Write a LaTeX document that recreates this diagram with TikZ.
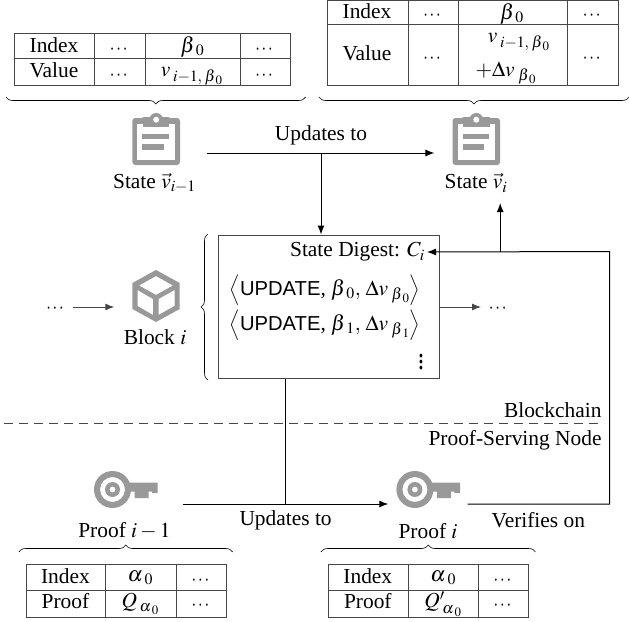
\documentclass[tikz,border=0pt]{standalone}
\usepackage{amsmath}
\usepackage{mathptmx}
\usepackage{fontspec}
\setmainfont{Liberation Serif}
\setsansfont{Liberation Sans}
\usetikzlibrary{arrows.meta,decorations.pathreplacing}
\definecolor{icongrey}{RGB}{153,153,153}
\definecolor{linegrey}{RGB}{70,70,70}
\newcommand{\bz}{\beta_{\mskip4mu 0}}
\newcommand{\bo}{\beta_{\mskip4mu 1}}
\newcommand{\az}{\alpha_{\mskip4mu 0}}
\newcommand{\vprev}{v_{\mskip3mu i-1,\mskip3mu \beta_{\mskip3mu 0}}}
\newcommand{\dvz}{\Delta v_{\mskip4mu\beta_{\mskip3mu 0}}}
\newcommand{\dvo}{\Delta v_{\mskip4mu\beta_{\mskip3mu 1}}}
\newcommand{\cds}{\scalebox{0.78}[1]{$\cdots$}}
\newcommand{\opn}{\raisebox{1pt}{\scalebox{0.8}{$\Bigl\langle$}}}
\newcommand{\cls}{\raisebox{1pt}{\scalebox{0.8}{$\Bigr\rangle$}}}
\newcommand{\upd}{{\fontsize{20.2}{24}\selectfont\textsf{UPDATE}}}
\tikzset{
  x=1pt,y=-1pt,
  lab/.style={inner sep=0pt,font=\fontsize{21.4}{24}\selectfont},
  cell/.style={inner sep=0pt,font=\fontsize{21.4}{24}\selectfont},
  tbl/.style={draw=linegrey,line width=1pt},
  conn/.style={draw=black,line width=1pt},
  arr/.style={conn,-{Latex[length=9pt,width=7pt]}},
  brc/.style={draw=black,line width=0.6pt,decorate,decoration={brace,amplitude=7pt}},
  pt/.style={inner sep=0pt,minimum size=0pt,outer sep=0pt}
}
\newcommand{\clipicon}[2]{%
  \begin{scope}[shift={(#1,#2)}]
    \fill[icongrey,rounded corners=3pt] (0,5) rectangle (47.6,52);
    \fill[white] (5,11) rectangle (42.6,47);
    \fill[icongrey] (10.5,3.5) rectangle (37,14);
    \fill[icongrey] (23.8,7) circle (7);
    \fill[white] (23.8,6.7) circle (3);
    \fill[icongrey] (10,20.5) rectangle (36.6,26);
    \fill[icongrey] (10,31) rectangle (31.3,37);
  \end{scope}}
\newcommand{\keyicon}[2]{%
  \begin{scope}[shift={(#1,#2)}]
    \fill[icongrey,even odd rule] (18.5,19) circle (18.5) (18.5,19) circle (12.5);
    \fill[icongrey,even odd rule] (18.5,19) circle (7.5) (18.5,19) circle (3);
    \fill[icongrey] (33,12.2) -- (63.6,12.2) -- (63.6,22.5) -- (58,22.5) -- (58,21.2) -- (54.5,21.2) -- (54.5,27.5) -- (40.5,27.5) -- (40.5,21.2) -- (33,21.2) -- cycle;
  \end{scope}}
\begin{document}
\begin{tikzpicture}
\useasboundingbox (0,0) rectangle (629,621);
% table 1
\draw[tbl] (14,33) rectangle (290,85);
\draw[tbl] (14,58) -- (290,58) (94.5,33) -- (94.5,85) (145,33) -- (145,85) (240.7,33) -- (240.7,85);
\node[cell] (a1) at (54,45) {Index};
\node[cell] (a2) at (119.7,49.5) {\cds};
\node[cell] (a3) at (192.5,47) {$\bz$};
\node[cell] (a4) at (265,49.5) {\cds};
\node[cell] (a5) at (54,70) {Value};
\node[cell] (a6) at (119.7,75.5) {\cds};
\node[cell] (a7) at (192,76) {$\vprev$};
\node[cell] (a8) at (265,75.5) {\cds};
% table 2
\draw[tbl] (327.3,0) rectangle (618,85);
\draw[tbl] (327.3,24) -- (618,24) (408,0) -- (408,85) (458.5,0) -- (458.5,85) (567.6,0) -- (567.6,85);
\node[cell] (b1) at (367,11) {Index};
\node[cell] (b2) at (433,15.5) {\cds};
\node[cell] (b3) at (512,14) {$\bz$};
\node[cell] (b4) at (592.7,15.5) {\cds};
\node[cell] (b5) at (367,53) {Value};
\node[cell] (b6) at (433,59) {\cds};
\node[cell] (b7) at (519,42) {$\vprev$};
\node[cell] (b8) at (506,73) {$+\dvz$};
\node[cell] (b9) at (592.7,59) {\cds};
% top braces
\coordinate (br1l) at (305.6,97);
\coordinate (br1r) at (6,97);
\coordinate (br2l) at (629,97);
\coordinate (br2r) at (319,97);
\draw[brc] (br1l) -- (br1r);
\draw[brc] (br2l) -- (br2r);
% icons
\clipicon{132.4}{113}
\clipicon{452.5}{113}
\node[pt] (s0) at (156,139) [minimum width=102pt,minimum height=52pt] {};
\node[pt] (s1) at (476.3,139) [minimum width=83.8pt,minimum height=52pt] {};
\node[lab] (t0) at (154.5,183) {State $\vec{v}_{i-1}$};
\node[lab] (t1) at (476,183) {State $\vec{v}_i$};
\node[lab] (up) at (321,135) {Updates to};
\draw[arr] (s0.east |- 0,153) -- (s1.west |- 0,153);
% block
\fill[icongrey,even odd rule] (156,270) -- (179.7,283) -- (179.7,309) -- (156,322) -- (132.4,309) -- (132.4,283) -- cycle
 (156,276) -- (173,285.5) -- (156,295) -- (139,285.5) -- cycle
 (137.5,290) -- (153,299) -- (153,315) -- (137.5,306) -- cycle
 (158.5,299) -- (174.5,290) -- (174.5,306) -- (158.5,315) -- cycle;
\node[pt] (blk) at (156,296) [minimum width=83.4pt,minimum height=53pt] {};
\node[lab] (t2) at (155,337) {Block $i$};
\node[lab] (ld) at (56,309) {\cds};
\node[lab] (rd) at (498.6,309) {\cds};
\coordinate (larr) at (73.4,307);
\coordinate (rarr) at (481,307);
% digest box
\node[draw=linegrey,line width=1pt,inner sep=0pt,minimum width=221pt,minimum height=143.5pt] (box) at (328.6,306.75) {};
\node[lab,anchor=east,inner xsep=2pt] (dg) at (427,252) {State Digest: $C_i$};
\node[lab] (u1) at (325,290) {\opn\upd, $\bz,\, \dvz$\cls};
\node[lab] (u2) at (325,325) {\opn\upd, $\bo,\, \dvo$\cls};
\node[lab] (vd) at (421,358) {\scalebox{1.1}[1.5]{$\vdots$}};
\draw[arr,draw=linegrey] (larr) -- (blk.west |- larr);
\draw[arr,draw=linegrey] (box.east |- rarr) -- (rarr);
% left brace of the box
\coordinate (lbb) at (208,380);
\coordinate (lbt) at (208,234);
\draw[brc] (lbb) -- (lbt);
% connectors
\coordinate (j1) at (321,153);
\draw[arr] (j1) -- (j1 |- box.north);
\coordinate (j2) at (500.2,251.5);
\coordinate (j2t) at (500.2,203);
\draw[arr] (j2) -- (j2t);
% dashed line
\coordinate (dl) at (4,423.5);
\coordinate (dr) at (604,423.5);
\draw[draw=linegrey,line width=0.8pt,dash pattern=on 9pt off 6pt] (dl) -- (dr);
\node[lab,anchor=east] (bc) at (601.7,410) {Blockchain};
\node[lab,anchor=east] (ps) at (601.7,440) {Proof-Serving Node};
% keys
\keyicon{94}{470.5}
\keyicon{396.4}{470.5}
\node[pt] (k0) at (138.25,489) [minimum width=88.5pt,minimum height=40pt] {};
\node[pt] (k1) at (428,489) [minimum width=79.4pt,minimum height=40pt] {};
\coordinate (j3) at (285.2,504);
\draw[arr] (k0.east |- j3) -- (k1.west |- j3);
\draw[conn] (box.south -| j3) -- (j3);
\coordinate (corner1) at (609.7,504);
\coordinate (corner2) at (609.7,251.5);
\draw[arr] (k1.east |- corner1) -- (corner1) -- (corner2) -- (dg.east);
\node[lab] (t3) at (124.4,531) {Proof $i-1$};
\node[lab] (t4) at (428,531) {Proof $i$};
\node[lab] (t5) at (285.6,520) {Updates to};
\node[lab] (t6) at (538.3,520) {Verifies on};
% lower braces
\coordinate (br3l) at (18.9,552);
\coordinate (br3r) at (232.6,552);
\coordinate (br4l) at (320.9,552);
\coordinate (br4r) at (535.5,552);
\draw[brc] (br3l) -- (br3r);
\draw[brc] (br4l) -- (br4r);
% table 3
\draw[tbl] (26,564) rectangle (226.2,617);
\draw[tbl] (26,590) -- (226.2,590) (105.5,564) -- (105.5,617) (176,564) -- (176,617);
\node[cell] (c1) at (65.4,576) {Index};
\node[cell] (c2) at (140.4,578) {$\az$};
\node[cell] (c3) at (201.4,580.5) {\cds};
\node[cell] (c4) at (65.4,601) {Proof};
\node[cell] (c5) at (140.4,604) {$Q_{\mskip3mu\alpha_{\mskip3mu 0}}$};
\node[cell] (c6) at (201.4,605.5) {\cds};
% table 4
\draw[tbl] (328.5,564) rectangle (528.7,617);
\draw[tbl] (328.5,590) -- (528.7,590) (408.3,564) -- (408.3,617) (478.5,564) -- (478.5,617);
\node[cell] (d1) at (367.8,576) {Index};
\node[cell] (d2) at (443.2,578) {$\az$};
\node[cell] (d3) at (503.4,580.5) {\cds};
\node[cell] (d4) at (367.8,601) {Proof};
\node[cell] (d5) at (443.2,604) {$Q'_{\mskip3mu\alpha_{\mskip3mu 0}}$};
\node[cell] (d6) at (503.4,605.5) {\cds};
\end{tikzpicture}
\end{document}
